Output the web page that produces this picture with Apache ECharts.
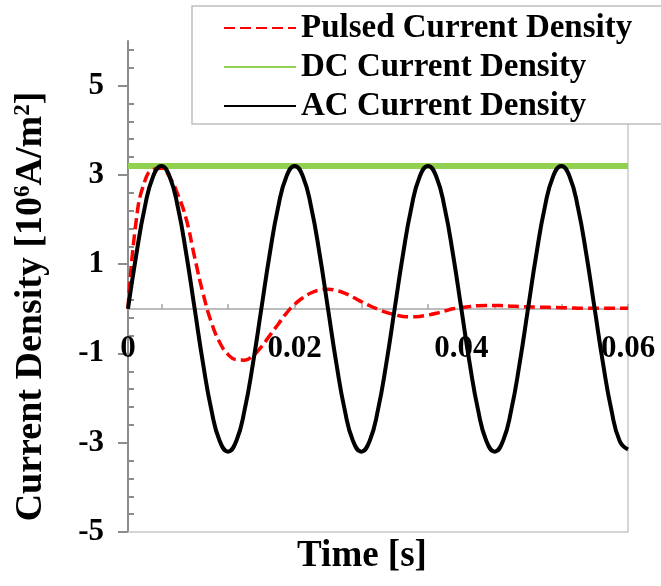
<!DOCTYPE html>
<html>
<head>
<meta charset="utf-8">
<script src="https://cdn.jsdelivr.net/npm/echarts@6/dist/echarts.min.js"></script>
<style>
  html, body { margin: 0; padding: 0; background: #fff; }
  #chart { width: 661px; height: 586px; }
</style>
</head>
<body>
<div id="chart"></div>
<script>
// time samples [s]
const timeS = [
  0, 0.001, 0.002, 0.003, 0.004, 0.005, 0.006, 0.007, 0.008, 0.009,
  0.010, 0.011, 0.012, 0.013, 0.014, 0.015, 0.016, 0.017, 0.018, 0.019,
  0.020, 0.021, 0.022, 0.023, 0.024, 0.025, 0.026, 0.027, 0.028, 0.029,
  0.030, 0.031, 0.032, 0.033, 0.034, 0.035, 0.036, 0.037, 0.038, 0.039,
  0.040, 0.041, 0.042, 0.043, 0.044, 0.045, 0.046, 0.047, 0.048, 0.049,
  0.050, 0.051, 0.052, 0.053, 0.054, 0.055, 0.056, 0.057, 0.058, 0.059,
  0.060
]
// AC current density [10^6 A/m^2]
const acDensity = [
  0, 1.22, 2.26, 2.96, 3.2, 2.96, 2.26, 1.22, 0, -1.22,
  -2.26, -2.96, -3.2, -2.96, -2.26, -1.22, 0, 1.22, 2.26, 2.96,
  3.2, 2.96, 2.26, 1.22, 0, -1.22, -2.26, -2.96, -3.2, -2.96,
  -2.26, -1.22, 0, 1.22, 2.26, 2.96, 3.2, 2.96, 2.26, 1.22,
  0, -1.22, -2.26, -2.96, -3.2, -2.96, -2.26, -1.22, 0, 1.22,
  2.26, 2.96, 3.2, 2.96, 2.26, 1.22, 0, -1.22, -2.26, -2.96,
  -3.15
]
// pulsed current density (damped)
const pulsedDensity = [
  0, 2.0, 2.85, 3.12, 3.15, 2.95, 2.55, 2.0, 1.15, 0.35,
  -0.3, -0.75, -1.02, -1.14, -1.15, -1.05, -0.85, -0.6, -0.35, -0.1,
  0.1, 0.25, 0.36, 0.42, 0.44, 0.41, 0.35, 0.26, 0.16, 0.07,
  -0.01, -0.08, -0.13, -0.17, -0.18, -0.17, -0.14, -0.1, -0.05, 0,
  0.03, 0.05, 0.07, 0.075, 0.075, 0.07, 0.06, 0.05, 0.045, 0.04,
  0.035, 0.03, 0.025, 0.02, 0.015, 0.01, 0.01, 0.01, 0.01, 0.01,
  0.01
]
const dcTime = [0, 0.06]
const dcDensity = [3.2, 3.2]

const xLabels = [0, 0.02, 0.04, 0.06]
const xTicks = [0.004, 0.012, 0.02, 0.028, 0.036, 0.044, 0.052, 0.06]
const yLabels = [-5, -3, -1, 1, 3, 5]
const yMinorTicks = [
  -4.6, -4.2, -3.8, -3.4, -2.6, -2.2, -1.8, -1.4, -0.6, -0.2, 0.2, 0.6,
  1.4, 1.8, 2.2, 2.6, 3.4, 3.8, 4.2, 4.6, 5.4, 5.8
]

const seriesNames = ['Pulsed Current Density', 'DC Current Density', 'AC Current Density']

const font = '"Times New Roman", "Liberation Serif", serif'
const pair = (xs, ys) => xs.map((x, i) => [x, ys[i]])

const chart = echarts.init(document.getElementById('chart'))
chart.setOption({
  animation: false,
  grid: {
    left: 128,
    right: 33,
    top: 41,
    bottom: 54,
    outerBoundsMode: 'none'
  },
  legend: {
    orient: 'vertical',
    left: 192,
    top: 6,
    data: seriesNames,
    backgroundColor: '#fff',
    borderColor: '#bfbfbf',
    borderWidth: 1.5,
    borderRadius: 0,
    padding: [4, 33, 0, 31],
    itemWidth: 72,
    itemHeight: 14,
    itemGap: 3,
    itemStyle: { opacity: 0 },
    textStyle: {
      fontFamily: font,
      fontSize: 33,
      fontWeight: 'bold',
      lineHeight: 36,
      color: '#000'
    }
  },
  xAxis: [
    {
      // axis through y = 0
      type: 'value',
      position: 'bottom',
      offset: -223,
      min: 0,
      max: 0.06,
      axisLine: { onZero: false, lineStyle: { color: '#a6a6a6', width: 1.5 } },
      axisTick: {
        inside: true,
        length: 5,
        customValues: xTicks,
        lineStyle: { color: '#a6a6a6', width: 1.5 }
      },
      axisLabel: {
        customValues: xLabels,
        margin: 24,
        fontFamily: font,
        fontSize: 31,
        fontWeight: 'bold',
        color: '#000'
      },
      splitLine: { show: false }
    },
    {
      type: 'value',
      position: 'bottom',
      min: 0,
      max: 0.06,
      axisLine: { onZero: false, lineStyle: { color: '#c8c8c8', width: 1.5 } },
      axisTick: { show: false },
      axisLabel: { show: false },
      splitLine: { show: false },
      name: 'Time [s]',
      nameLocation: 'middle',
      nameGap: 6,
      nameTextStyle: {
        fontFamily: font,
        fontSize: 37,
        fontWeight: 'bold',
        color: '#000',
        verticalAlign: 'top',
        padding: [0, 32, 0, 0]
      }
    }
  ],
  yAxis: [
    {
      type: 'value',
      position: 'left',
      min: -5,
      max: 6,
      axisLine: { show: true, onZero: false, lineStyle: { color: '#8c8c8c', width: 2 } },
      axisTick: {
        show: true,
        length: 10,
        customValues: yLabels,
        lineStyle: { color: '#8c8c8c', width: 2 }
      },
      axisLabel: {
        customValues: yLabels,
        margin: 24,
        fontFamily: font,
        fontSize: 31,
        fontWeight: 'bold',
        color: '#000'
      },
      splitLine: { show: false },
      name: 'Current Density [10{sup|6}A/m{sup|2}]',
      nameLocation: 'middle',
      nameGap: 78,
      nameTextStyle: {
        fontFamily: font,
        fontSize: 38,
        fontWeight: 'bold',
        color: '#000',
        padding: [0, 40, 0, 0],
        rich: {
          sup: {
            fontFamily: font,
            fontSize: 23,
            fontWeight: 'bold',
            color: '#000',
            verticalAlign: 'top'
          }
        }
      }
    },
    {
      type: 'value',
      position: 'left',
      min: -5,
      max: 6,
      axisLine: { show: false, onZero: false },
      axisTick: {
        show: true,
        inside: true,
        length: 6,
        customValues: yMinorTicks,
        lineStyle: { color: '#8c8c8c', width: 2 }
      },
      axisLabel: { show: false },
      splitLine: { show: false }
    },
    {
      type: 'value',
      position: 'right',
      min: -5,
      max: 6,
      axisLine: { show: true, onZero: false, lineStyle: { color: '#c8c8c8', width: 1.5 } },
      axisTick: { show: false },
      axisLabel: { show: false },
      splitLine: { show: false }
    }
  ],
  series: [
    {
      name: 'DC Current Density',
      type: 'line',
      data: pair(dcTime, dcDensity),
      symbol: 'none',
      lineStyle: { color: '#92d050', width: 6 },
      itemStyle: { color: '#92d050' },
      z: 2
    },
    {
      name: 'Pulsed Current Density',
      type: 'line',
      data: pair(timeS, pulsedDensity),
      smooth: true,
      symbol: 'none',
      lineStyle: { color: '#ff0000', width: 3.5, type: [11, 5] },
      itemStyle: { color: '#ff0000' },
      z: 3
    },
    {
      name: 'AC Current Density',
      type: 'line',
      data: pair(timeS, acDensity),
      smooth: true,
      symbol: 'none',
      lineStyle: { color: '#000', width: 4 },
      itemStyle: { color: '#000' },
      z: 4
    }
  ]
})
</script>
</body>
</html>
